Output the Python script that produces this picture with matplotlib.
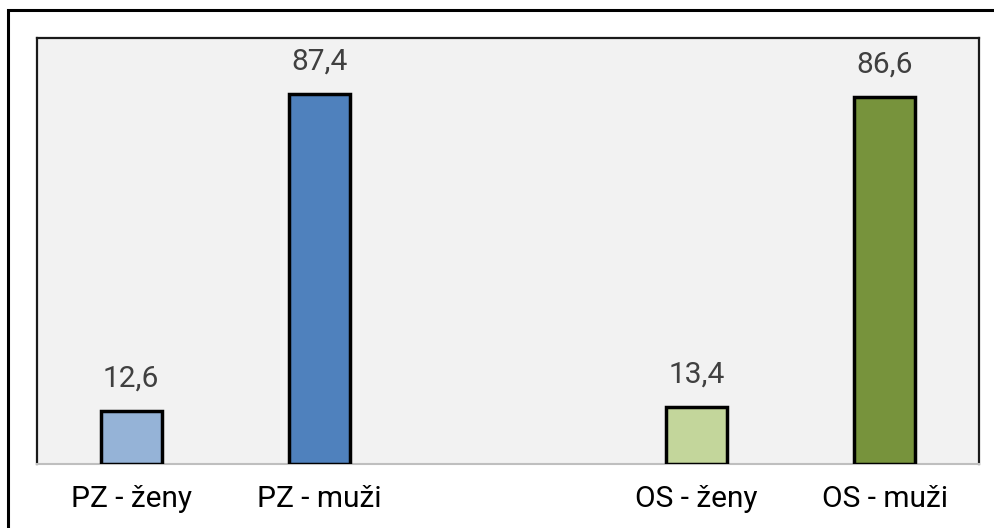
import numpy as np
import matplotlib.pyplot as plt
from matplotlib.patches import Rectangle

categories = ['PZ - ženy', 'PZ - muži', '', 'OS - ženy', 'OS - muži']
values = [12.6, 87.4, None, 13.4, 86.6]
labels = ['12,6', '87,4', '', '13,4', '86,6']
colors = ['#95b3d7', '#4f81bd', 'none', '#c3d69b', '#77933c']

plt.rcParams['font.family'] = ['Roboto', 'DejaVu Sans']

fig = plt.figure(figsize=(9.95, 5.28), dpi=100)
ax = fig.add_axes([37 / 995, 64 / 528, 942 / 995, 426 / 528])

# outer frame (only left and top edges fall inside the image)
fig.patches.append(Rectangle((8 / 995, -0.1), 1.2, (518 / 528) + 0.1,
                             transform=fig.transFigure, fill=False,
                             edgecolor='black', linewidth=2.2, zorder=0))

x = np.arange(len(categories))
for i, v in enumerate(values):
    if v is None:
        continue
    ax.bar(x[i], v, width=0.325, color=colors[i], edgecolor='black',
           linewidth=2.5, zorder=3)
    ax.text(x[i], v + 4.3, labels[i], ha='center', va='bottom',
            fontsize=21.5, color='#404040')

ax.set_facecolor('#f2f2f2')
ax.set_xlim(-0.5, len(categories) - 0.5)
ax.set_ylim(0, 100.6)
ax.set_yticks([])
ax.set_xticks(x)
ax.set_xticklabels(categories, fontsize=21.5, color='black')
ax.tick_params(axis='x', length=0, pad=15)

for side in ['left', 'top', 'right']:
    ax.spines[side].set_color('#1a1a1a')
    ax.spines[side].set_linewidth(1.6)
ax.spines['bottom'].set_color('#bfbfbf')
ax.spines['bottom'].set_linewidth(1.5)

fig.savefig('out.png', dpi=100)
